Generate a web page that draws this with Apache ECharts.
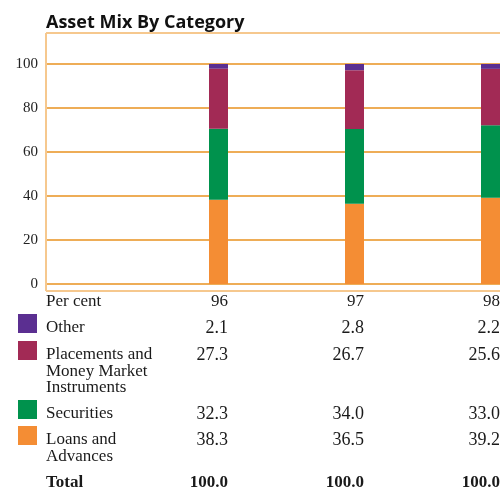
<!DOCTYPE html>
<html>
<head>
<meta charset="utf-8">
<script src="https://cdn.jsdelivr.net/npm/echarts@6/dist/echarts.min.js"></script>
<style>
  html, body { margin: 0; padding: 0; background: #fff; }
  #main { width: 500px; height: 490px; }
</style>
</head>
<body>
<div id="main"></div>
<script>
  // data
  const years = ['96', '97', '98']
  const categories = ['Other', 'Placements and\nMoney Market\nInstruments', 'Securities', 'Loans and\nAdvances']
  const other = [2.1, 2.8, 2.2]
  const placements = [27.3, 26.7, 25.6]
  const securities = [32.3, 34.0, 33.0]
  const loans = [38.3, 36.5, 39.2]
  const totals = ['100.0', '100.0', '100.0']

  const colors = {
    other: '#5b2f91',
    placements: '#a22a55',
    securities: '#00924d',
    loans: '#f48d34'
  }
  const gridColor = '#e8921f'
  const frame = '#f6c88e'
  const serif = '"Liberation Serif", "DejaVu Serif", serif'
  const barW = 19

  let chart = echarts.init(document.getElementById('main'))

  function barSeries (name, vals, color) {
    return {
      name: name,
      type: 'bar',
      stack: 'mix',
      xAxisIndex: 1,
      yAxisIndex: 1,
      barWidth: barW,
      clip: false,
      itemStyle: { color: color },
      data: vals
    }
  }

  chart.setOption({
    animation: false,
    title: {
      text: 'Asset Mix By Category',
      left: 41,
      top: 9,
      textStyle: {
        fontFamily: '"Open Sans", "Noto Sans", sans-serif',
        fontWeight: 'bold',
        fontSize: 18,
        color: '#111'
      }
    },
    // grid 0 carries the value scale and gridlines, grid 1 the bars
    grid: [
      { left: 46, right: 0, top: 64, bottom: 206 },
      { left: 218.5, right: 9.5, top: 64, bottom: 206 }
    ],
    xAxis: [
      { type: 'value', gridIndex: 0, show: false },
      { type: 'category', gridIndex: 1, data: years, boundaryGap: false, show: false }
    ],
    yAxis: [
      {
        type: 'value',
        gridIndex: 0,
        min: 0,
        max: 100,
        interval: 20,
        axisLine: { show: false },
        axisTick: { show: false },
        axisLabel: { margin: 8, color: '#222', fontFamily: serif, fontSize: 15 },
        splitLine: { lineStyle: { color: gridColor, width: 1.5 } }
      },
      { type: 'value', gridIndex: 1, min: 0, max: 100, show: false, splitLine: { show: false } }
    ],
    series: [
      barSeries('Loans and Advances', loans, colors.loans),
      barSeries('Securities', securities, colors.securities),
      barSeries('Placements and Money Market Instruments', placements, colors.placements),
      barSeries('Other', other, colors.other)
    ]
  })

  // table under the chart, columns lined up on the bars' right edges
  const colX = years.map(y => chart.convertToPixel({ xAxisIndex: 1 }, y) + barW / 2)
  const rows = [
    { label: categories[0], vals: other, color: colors.other, y: 328 },
    { label: categories[1], vals: placements, color: colors.placements, y: 355 },
    { label: categories[2], vals: securities, color: colors.securities, y: 414 },
    { label: categories[3], vals: loans, color: colors.loans, y: 440 }
  ]
  const g = []
  // frame
  g.push({ type: 'line', shape: { x1: 46, y1: 33, x2: 500, y2: 33 }, style: { stroke: frame, lineWidth: 2 } })
  g.push({ type: 'line', shape: { x1: 46, y1: 33, x2: 46, y2: 291 }, style: { stroke: frame, lineWidth: 2 } })
  g.push({ type: 'line', shape: { x1: 46, y1: 291, x2: 500, y2: 291 }, style: { stroke: frame, lineWidth: 2 } })

  function label (text, x, cy, bold) {
    return {
      type: 'text',
      x: x,
      y: cy - 8.25,
      style: {
        text: text,
        align: 'left',
        verticalAlign: 'top',
        font: (bold ? 'bold ' : '') + '17px ' + serif,
        lineHeight: 16.5,
        fill: '#1a1a1a'
      }
    }
  }

  function num (text, x, cy, size, bold) {
    return {
      type: 'text',
      x: x,
      y: cy,
      style: {
        text: text,
        align: 'right',
        verticalAlign: 'middle',
        font: (bold ? 'bold ' : '') + size + 'px ' + serif,
        fill: '#1a1a1a'
      }
    }
  }

  g.push(label('Per cent', 46, 302))
  years.forEach((t, i) => g.push(num(t, colX[i], 302, 17)))
  rows.forEach(r => {
    g.push({ type: 'rect', shape: { x: 18, y: r.y - 14, width: 19, height: 19 }, style: { fill: r.color } })
    g.push(label(r.label, 46, r.y))
    r.vals.forEach((v, i) => g.push(num(v.toFixed(1), colX[i], r.y, 18)))
  })
  g.push(label('Total', 46, 483, true))
  totals.forEach((t, i) => g.push(num(t, colX[i], 483, 17, true)))

  chart.setOption({ graphic: g })
</script>
</body>
</html>
